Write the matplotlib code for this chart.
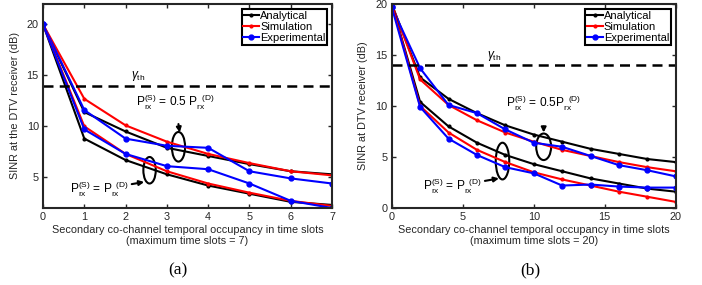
import numpy as np
import matplotlib
matplotlib.use('Agg')
import matplotlib.pyplot as plt
from matplotlib.patches import Ellipse

plt.rcParams['font.family'] = ['Liberation Sans', 'DejaVu Sans']
plt.rcParams['mathtext.fontset'] = 'custom'
plt.rcParams['mathtext.rm'] = 'Liberation Sans'
plt.rcParams['mathtext.it'] = 'Liberation Sans:italic'

# ---- panel (a): max 7 time slots ----
xa = [0, 1, 2, 3, 4, 5, 6, 7]
a_ana_half = [20, 11.4, 9.5, 7.9, 7.1, 6.3, 5.6, 5.3]
a_sim_half = [20, 12.7, 10.1, 8.5, 7.3, 6.4, 5.6, 5.2]
a_exp_half = [20, 11.6, 8.8, 8.1, 7.9, 5.6, 4.9, 4.4]
a_ana_full = [20, 8.8, 6.7, 5.3, 4.2, 3.4, 2.6, 2.3]
a_sim_full = [20, 10.0, 7.3, 5.6, 4.4, 3.5, 2.7, 2.2]
a_exp_full = [20, 9.7, 7.3, 6.1, 5.8, 4.4, 2.7, 2.0]

# ---- panel (b): max 20 time slots ----
xb = [0, 2, 4, 6, 8, 10, 12, 14, 16, 18, 20]
b_ana_half = [20, 12.8, 10.7, 9.3, 8.1, 7.2, 6.5, 5.8, 5.3, 4.8, 4.5]
b_sim_half = [20, 12.6, 10.1, 8.6, 7.4, 6.5, 5.7, 5.1, 4.5, 4.0, 3.6]
b_exp_half = [19.7, 13.7, 10.1, 9.3, 7.7, 6.4, 6.0, 5.1, 4.2, 3.7, 3.1]
b_ana_full = [20, 10.4, 8.0, 6.4, 5.2, 4.3, 3.6, 2.9, 2.4, 1.9, 1.6]
b_sim_full = [20, 10.0, 7.4, 5.7, 4.5, 3.5, 2.8, 2.2, 1.6, 1.1, 0.6]
b_exp_full = [19.7, 9.9, 6.8, 5.2, 4.0, 3.4, 2.2, 2.3, 2.1, 2.0, 2.0]

gamma_th = 14
fs = 7.8     # labels / ticks
fs_ann = 8.6  # annotations

fig = plt.figure(figsize=(7.02, 2.85), dpi=100)
ax1 = fig.add_axes([0.0613, 0.2702, 0.4117, 0.7158])
ax2 = fig.add_axes([0.558, 0.2702, 0.4046, 0.7158])


def draw(ax, x, ana, sim, exp, ana2, sim2, exp2):
    ax.plot(x, ana, color='black', lw=1.5, marker='o', ms=2, label='Analytical')
    ax.plot(x, sim, color='red', lw=1.5, marker='o', ms=2, label='Simulation')
    ax.plot(x, exp, color='blue', lw=1.5, marker='o', ms=3.5, label='Experimental')
    ax.plot(x, ana2, color='black', lw=1.5, marker='o', ms=2)
    ax.plot(x, sim2, color='red', lw=1.5, marker='o', ms=2)
    ax.plot(x, exp2, color='blue', lw=1.5, marker='o', ms=3.5)
    ax.axhline(gamma_th, color='black', ls='--', lw=1.8, dashes=(4, 2.5))
    for s in ax.spines.values():
        s.set_linewidth(1.5)
        s.set_color('#262626')
    ax.tick_params(direction='in', length=3, width=1, top=True, right=True,
                   labelsize=fs, colors='#262626', pad=3)
    leg = ax.legend(loc='upper right', fontsize=8, handlelength=1.4,
                    handletextpad=0.1, borderaxespad=0.45, borderpad=0.15,
                    labelspacing=0.1, fancybox=False, framealpha=1)
    leg.get_frame().set_edgecolor('black')
    leg.get_frame().set_linewidth(1.5)


# panel (a)
draw(ax1, xa, a_ana_half, a_sim_half, a_exp_half, a_ana_full, a_sim_full, a_exp_full)
ax1.set_xlim(0, 7)
ax1.set_ylim(2, 22)
ax1.set_xticks(range(0, 8))
ax1.set_yticks([5, 10, 15, 20])
ax1.set_xlabel('Secondary co-channel temporal occupancy in time slots\n(maximum time slots = 7)',
               fontsize=fs, color='#262626', labelpad=2, linespacing=1.1)
ax1.set_ylabel('SINR at the DTV receiver (dB)', fontsize=fs, color='#262626', labelpad=5)
ax1.text(2.3, 14.3, r'$\gamma_{\rm th}$', fontsize=fs_ann, ha='center', va='bottom')
ax1.add_patch(Ellipse((3.28, 8.0), 0.32, 2.9, fill=False, lw=1.5, color='black'))
ax1.add_patch(Ellipse((2.58, 5.7), 0.3, 2.6, fill=False, lw=1.5, color='black'))
ax1.annotate(r'P$_{\rm rx}^{\rm (S)}$ = 0.5 P$_{\rm rx}^{\rm \ \ (D)}$', xy=(3.31, 9.4),
             xytext=(3.2, 12.4), fontsize=fs_ann, ha='center', va='center',
             arrowprops=dict(arrowstyle='-|>', color='black', lw=1.5,
                             mutation_scale=7, shrinkA=7, shrinkB=0))
ax1.annotate(r'P$_{\rm rx}^{\rm (S)}$ = P$_{\rm rx}^{\rm \ \ (D)}$', xy=(2.45, 4.55),
             xytext=(1.37, 3.8), fontsize=fs_ann, ha='center', va='center',
             arrowprops=dict(arrowstyle='-|>', color='black', lw=1.5,
                             mutation_scale=7, shrinkA=26, shrinkB=0))

# panel (b)
draw(ax2, xb, b_ana_half, b_sim_half, b_exp_half, b_ana_full, b_sim_full, b_exp_full)
ax2.set_xlim(0, 20)
ax2.set_ylim(0, 20)
ax2.set_xticks([0, 5, 10, 15, 20])
ax2.set_yticks([0, 5, 10, 15, 20])
ax2.set_xlabel('Secondary co-channel temporal occupancy in time slots\n(maximum time slots = 20)',
               fontsize=fs, color='#262626', labelpad=2, linespacing=1.1)
ax2.set_ylabel('SINR at DTV receiver (dB)', fontsize=fs, color='#262626', labelpad=5)
ax2.text(7.2, 14.2, r'$\gamma_{\rm th}$', fontsize=fs_ann, ha='center', va='bottom')
ax2.add_patch(Ellipse((10.7, 6.0), 1.05, 2.6, fill=False, lw=1.5, color='black'))
ax2.add_patch(Ellipse((7.8, 4.6), 0.95, 3.6, fill=False, lw=1.5, color='black'))
ax2.annotate(r'P$_{\rm rx}^{\rm (S)}$ = 0.5P$_{\rm rx}^{\rm \ \ (D)}$', xy=(10.7, 7.4),
             xytext=(10.7, 10.3), fontsize=fs_ann, ha='center', va='center',
             arrowprops=dict(arrowstyle='-|>', color='black', lw=1.5,
                             mutation_scale=7, shrinkA=8, shrinkB=0))
ax2.annotate(r'P$_{\rm rx}^{\rm (S)}$ = P$_{\rm rx}^{\rm \ \ (D)}$', xy=(7.55, 2.9),
             xytext=(4.3, 2.1), fontsize=fs_ann, ha='center', va='center',
             arrowprops=dict(arrowstyle='-|>', color='black', lw=1.5,
                             mutation_scale=7, shrinkA=26, shrinkB=0))

fig.text(0.254, 0.052, '(a)', fontsize=12.5, family='Liberation Serif', ha='center', va='center')
fig.text(0.755, 0.052, '(b)', fontsize=12.5, family='Liberation Serif', ha='center', va='center')

fig.savefig('out.png', dpi=100)
